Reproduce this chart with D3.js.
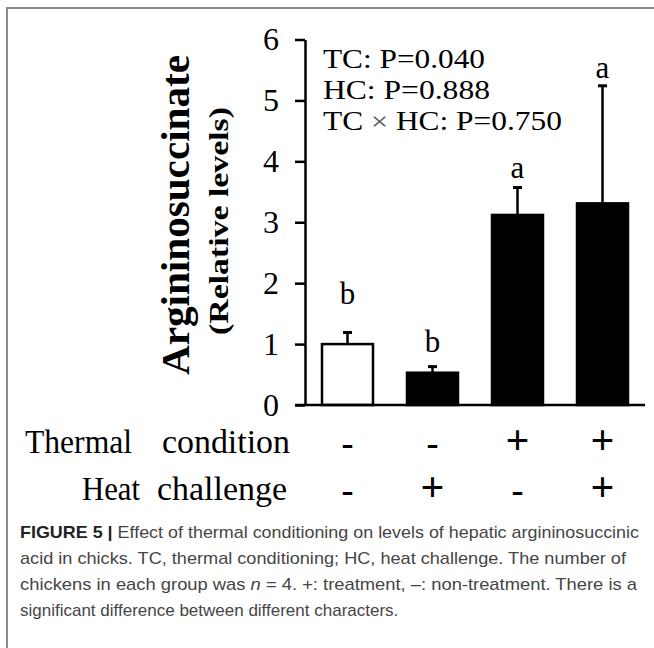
<!DOCTYPE html>
<html>
<head>
<meta charset="utf-8">
<script src="https://cdn.jsdelivr.net/npm/d3@7"></script>
<style>
  html, body { margin: 0; padding: 0; background: #fff; }
  svg { display: block; }
  .serif { font-family: "Liberation Serif", "Times New Roman", serif; }
  .cap { font-family: "Liberation Sans", Arial, sans-serif; fill: #454545; }
</style>
</head>
<body>
<div id="chart"></div>
<script>
// group data
const groups = ["TC-HC-", "TC-HC+", "TC+HC-", "TC+HC+"];
const means = [1.00, 0.53, 3.12, 3.31];
const errors = [0.19, 0.10, 0.45, 1.93];
const fills = ["white", "black", "black", "black"];
const letters = ["b", "b", "a", "a"];
const letterLevels = [1.66, 0.87, 3.73, 5.37];
const thermalSigns = ["-", "-", "+", "+"];
const heatSigns = ["-", "+", "-", "+"];
const yTicks = [0, 1, 2, 3, 4, 5, 6];
const stats = ["TC: P=0.040", "HC: P=0.888", "HC: P=0.750"];

const width = 654, height = 648;

const svg = d3.select("#chart").append("svg")
    .attr("width", width)
    .attr("height", height);

// figure frame (top and left only)
svg.append("path")
    .attr("d", `M7,${height} L7,8 L${width},8`)
    .attr("fill", "none")
    .attr("stroke", "#8a8a8a")
    .attr("stroke-width", 2);

const x = d3.scaleBand()
    .domain(groups)
    .range([305, 645])
    .paddingInner(0.4)
    .paddingOuter(0.2);

const y = d3.scaleLinear()
    .domain([0, 6])
    .range([405, 39.5]);

// y axis
const yAxis = svg.append("g")
    .attr("transform", "translate(305,0)")
    .call(d3.axisLeft(y).tickValues(yTicks).tickFormat(d3.format("d"))
        .tickSize(10).tickSizeOuter(0).tickPadding(16));
yAxis.select(".domain").attr("stroke", "#000").attr("stroke-width", 2.5);
yAxis.selectAll(".tick line").attr("stroke", "#000").attr("stroke-width", 2.5);
yAxis.selectAll(".tick text")
    .attr("class", "serif")
    .attr("font-size", 32)
    .attr("fill", "#000");

// bars
svg.append("g").selectAll("rect")
    .data(groups)
    .enter().append("rect")
    .attr("x", d => x(d))
    .attr("y", (d, i) => y(means[i]))
    .attr("width", x.bandwidth())
    .attr("height", (d, i) => y(0) - y(means[i]))
    .attr("fill", (d, i) => fills[i])
    .attr("stroke", "#000")
    .attr("stroke-width", 2.5);

// error bars (upper only)
const err = svg.append("g").selectAll("g")
    .data(groups)
    .enter().append("g");
err.append("line")
    .attr("x1", d => x(d) + x.bandwidth() / 2)
    .attr("x2", d => x(d) + x.bandwidth() / 2)
    .attr("y1", (d, i) => y(means[i]))
    .attr("y2", (d, i) => y(means[i] + errors[i]))
    .attr("stroke", "#000")
    .attr("stroke-width", 2.5);
err.append("line")
    .attr("x1", d => x(d) + x.bandwidth() / 2 - 4.5)
    .attr("x2", d => x(d) + x.bandwidth() / 2 + 4.5)
    .attr("y1", (d, i) => y(means[i] + errors[i]))
    .attr("y2", (d, i) => y(means[i] + errors[i]))
    .attr("stroke", "#000")
    .attr("stroke-width", 3);

// x baseline
svg.append("line")
    .attr("x1", 295)
    .attr("x2", x.range()[1])
    .attr("y1", y(0))
    .attr("y2", y(0))
    .attr("stroke", "#000")
    .attr("stroke-width", 2.5);

// significance letters
svg.append("g").selectAll("text")
    .data(groups)
    .enter().append("text")
    .attr("class", "serif")
    .attr("x", d => x(d) + x.bandwidth() / 2)
    .attr("y", (d, i) => y(letterLevels[i]))
    .attr("text-anchor", "middle")
    .attr("font-size", 31)
    .text((d, i) => letters[i]);

// statistics text
const statText = svg.append("g").attr("class", "serif").attr("font-size", 27);
statText.append("text").attr("x", 323).attr("y", 68)
    .attr("textLength", 162).attr("lengthAdjust", "spacingAndGlyphs")
    .text(stats[0]);
statText.append("text").attr("x", 323).attr("y", 99)
    .attr("textLength", 167).attr("lengthAdjust", "spacingAndGlyphs")
    .text(stats[1]);
const s3 = statText.append("text").attr("x", 323).attr("y", 130)
    .attr("textLength", 239).attr("lengthAdjust", "spacingAndGlyphs");
s3.append("tspan").text("TC ");
s3.append("tspan").attr("font-size", 26).attr("fill", "#555").text("\u00d7");
s3.append("tspan").text(" " + stats[2]);

// y title
svg.append("text")
    .attr("class", "serif")
    .attr("transform", "translate(189,215) rotate(-90)")
    .attr("text-anchor", "middle")
    .attr("font-size", 41)
    .attr("font-weight", "bold")
    .attr("textLength", 320)
    .attr("lengthAdjust", "spacingAndGlyphs")
    .text("Argininosuccinate");
svg.append("text")
    .attr("class", "serif")
    .attr("transform", "translate(228,221) rotate(-90)")
    .attr("text-anchor", "middle")
    .attr("font-size", 28)
    .attr("font-weight", "bold")
    .attr("textLength", 228)
    .attr("lengthAdjust", "spacingAndGlyphs")
    .text("(Relative levels)");

// treatment rows
const rows = [
    {words: [["Thermal", 25, 107], ["condition", 162, 128]], signs: thermalSigns, base: 453},
    {words: [["Heat", 82, 58], ["challenge", 157, 130]], signs: heatSigns, base: 500}
];
rows.forEach(r => {
    const g = svg.append("g").attr("class", "serif").attr("font-size", 34);
    r.words.forEach(w => {
        g.append("text").attr("x", w[1]).attr("y", r.base)
            .attr("textLength", w[2]).attr("lengthAdjust", "spacingAndGlyphs")
            .text(w[0]);
    });
    g.selectAll("text.sign")
        .data(groups)
        .enter().append("text")
        .attr("class", "sign")
        .attr("x", d => x(d) + x.bandwidth() / 2)
        .attr("y", (d, i) => r.signs[i] === "+" ? r.base + 1 : r.base + 2)
        .attr("text-anchor", "middle")
        .attr("font-size", (d, i) => r.signs[i] === "+" ? 42 : 36)
        .attr("font-weight", "bold")
        .text((d, i) => r.signs[i]);
});

// caption
const cap = svg.append("g").attr("class", "cap").attr("font-size", 17);
const l1 = cap.append("text").attr("x", 20).attr("y", 538)
    .attr("textLength", 619).attr("lengthAdjust", "spacingAndGlyphs");
l1.append("tspan").attr("font-weight", "bold").attr("fill", "#222").text("FIGURE 5 | ");
l1.append("tspan").text("Effect of thermal conditioning on levels of hepatic argininosuccinic");
cap.append("text").attr("x", 20).attr("y", 564)
    .attr("textLength", 606).attr("lengthAdjust", "spacingAndGlyphs")
    .text("acid in chicks. TC, thermal conditioning; HC, heat challenge. The number of");
const l3 = cap.append("text").attr("x", 20).attr("y", 590)
    .attr("textLength", 617).attr("lengthAdjust", "spacingAndGlyphs");
l3.append("tspan").text("chickens in each group was ");
l3.append("tspan").attr("font-style", "italic").text("n");
l3.append("tspan").text(" = 4. +: treatment, \u2013: non-treatment. There is a");
cap.append("text").attr("x", 20).attr("y", 616)
    .text("significant difference between different characters.");
</script>
</body>
</html>
